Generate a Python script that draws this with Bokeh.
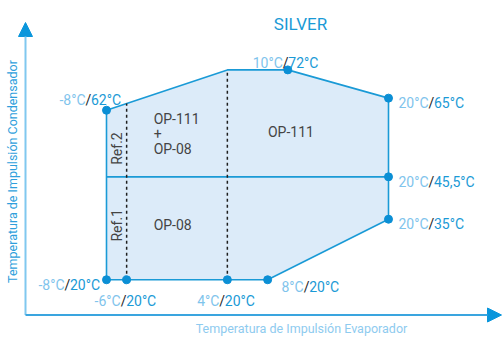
import numpy as np
from bokeh.plotting import figure
from bokeh.models import ColumnDataSource, Range1d, Arrow, NormalHead
from bokeh.core.properties import value
from bokeh.embed import file_html
from bokeh.resources import INLINE

# ---------------- data ----------------
title_text = "SILVER"
x_title = "Temperatura de Impulsión Evaporador"
y_title = "Temperatura de Impulsión Condensador"

# operating envelope vertices (evaporator °C, condenser °C)
env_evap = [-8, -8, 4, 10, 20, 20, 8]
env_cond = [20, 62, 72, 72, 65, 35, 20]
# upper edge of the envelope
top_evap = [-8, 4, 10, 20]
top_cond = [62, 72, 72, 65]
# marked points
pt_evap = [-8, 10, 20, 20, 20, 8, 4, -6, -8]
pt_cond = [62, 72, 65, 45.5, 35, 20, 20, 20, 20]
split_cond = 45.5          # horizontal split line
ref_evap = -6              # Ref.1 / Ref.2 limit
op_evap = 4                # OP-08 / OP-111 limit
low_cond = 20
left_evap = -8
right_evap = 20
ref_names = ["Ref.2", "Ref.1"]
zone_upper_left = ["OP-111", "+", "OP-08"]
zone_upper_right = "OP-111"
zone_lower = "OP-08"

# ---------------- layout ----------------
W, H = 502, 338
SX = 282 / 28.0                   # px per °C (x)
X0 = -8 - 106 / SX
X1 = X0 + W / SX
SY = 4.036                        # px per °C (y)
Y1 = 49.92 + 158.5 / SY
Y0 = Y1 - H / SY

def fx(px):
    return X0 + px / SX

def fy(py):
    return Y1 - py / SY

BLUE = "#1a9ad6"
LIGHT = "#7fc4ec"
DARK = "#1e1e1e"
FILL = "#dcebf9"
GREY = "#444444"
FONT = value("Roboto")

p = figure(width=W, height=H, output_backend="svg", toolbar_location=None,
           x_range=Range1d(X0, X1), y_range=Range1d(Y0, Y1), min_border=0)
p.axis.visible = False
p.grid.visible = False
p.outline_line_color = None
p.background_fill_color = "white"
p.border_fill_color = "white"

# envelope
p.patch(env_evap, env_cond, fill_color=FILL, line_color=BLUE, line_width=1.6)
p.line([left_evap, right_evap], [split_cond, split_cond], line_color=BLUE, line_width=1.6)

# dashed limits
for xv in (ref_evap, op_evap):
    ytop = float(np.interp(xv, top_evap, top_cond))
    p.line([xv, xv], [low_cond, ytop], line_color=DARK, line_width=1.5, line_dash="3 3")

# points
p.scatter(pt_evap, pt_cond, size=8, fill_color="#0b8fd5", line_color="#0b8fd5")

# point labels
def fmt(v):
    return f"{v:g}".replace(".", ",") + "°C"

lab_dx = [-21, -5, 40, 40, 40, 36, -8, -6, -42]
lab_dy = [-10, -7, 5, 5, 5, 7, 21, 21, 5.5]
src = ColumnDataSource(dict(
    x=pt_evap, y=pt_cond,
    a=[fmt(v) for v in pt_evap],
    b=[fmt(v) for v in pt_cond],
    s=["/"] * len(pt_evap),
    dx=lab_dx, dx2=[d + 5.5 for d in lab_dx], dy=lab_dy))
common = dict(source=src, text_font=FONT, text_font_size="14px", text_baseline="alphabetic",
              y_offset="dy")
p.text(x="x", y="y", text="a", x_offset="dx", text_align="right", text_color=LIGHT, **common)
p.text(x="x", y="y", text="s", x_offset="dx", text_align="left", text_color=DARK, **common)
p.text(x="x", y="y", text="b", x_offset="dx2", text_align="left", text_color=BLUE, **common)

# zone labels
mid_up = (split_cond + top_cond[0]) / 2
mid_low = (split_cond + low_cond) / 2
p.text(x=[ref_evap] * 3, y=[mid_up] * 3, text=zone_upper_left,
       x_offset=27, y_offset=[-25, -10, 5], text_align="left", text_baseline="middle",
       text_font=FONT, text_font_size="14px", text_color=GREY)
p.text(x=[ref_evap], y=[mid_low], text=[zone_lower], x_offset=27, y_offset=-3,
       text_align="left", text_baseline="middle",
       text_font=FONT, text_font_size="14px", text_color=GREY)
p.text(x=[(op_evap + right_evap) / 2], y=[mid_up], text=[zone_upper_right], x_offset=-17, y_offset=-12,
       text_align="center", text_baseline="middle",
       text_font=FONT, text_font_size="14px", text_color=GREY)
p.text(x=[(left_evap + ref_evap) / 2] * 2, y=[mid_up, mid_low], text=ref_names,
       y_offset=[5, -3], angle=np.pi / 2, text_align="center", text_baseline="middle",
       text_font=FONT, text_font_size="14px", text_color=GREY)

# title
p.text(x=[fx(300)], y=[fy(23)], text=[title_text], text_align="center", text_baseline="middle",
       text_font=FONT, text_font_size="17px", text_color=BLUE)

# axes with arrows
ax_x, ax_y = fx(25), fy(314.5)
p.add_layout(Arrow(end=NormalHead(size=14, fill_color="#0a96dc", line_color="#0a96dc"),
                   x_start=ax_x, y_start=ax_y, x_end=ax_x, y_end=fy(22),
                   line_color="#80c8ef", line_width=2))
p.add_layout(Arrow(end=NormalHead(size=14, fill_color="#0a96dc", line_color="#0a96dc"),
                   x_start=ax_x, y_start=ax_y, x_end=fx(501), y_end=ax_y,
                   line_color="#3aa5df", line_width=2))

p.text(x=[fx(301)], y=[fy(328)], text=[x_title], text_align="center", text_baseline="middle",
       text_font=FONT, text_font_size="12.5px", text_color="#8ecbef")
p.text(x=[fx(12)], y=[fy(171)], text=[y_title], angle=np.pi / 2, text_align="center",
       text_baseline="middle", text_font=FONT, text_font_size="12.5px", text_color="#2f9fdc")

open("out.html", "w").write(file_html(p, INLINE))
